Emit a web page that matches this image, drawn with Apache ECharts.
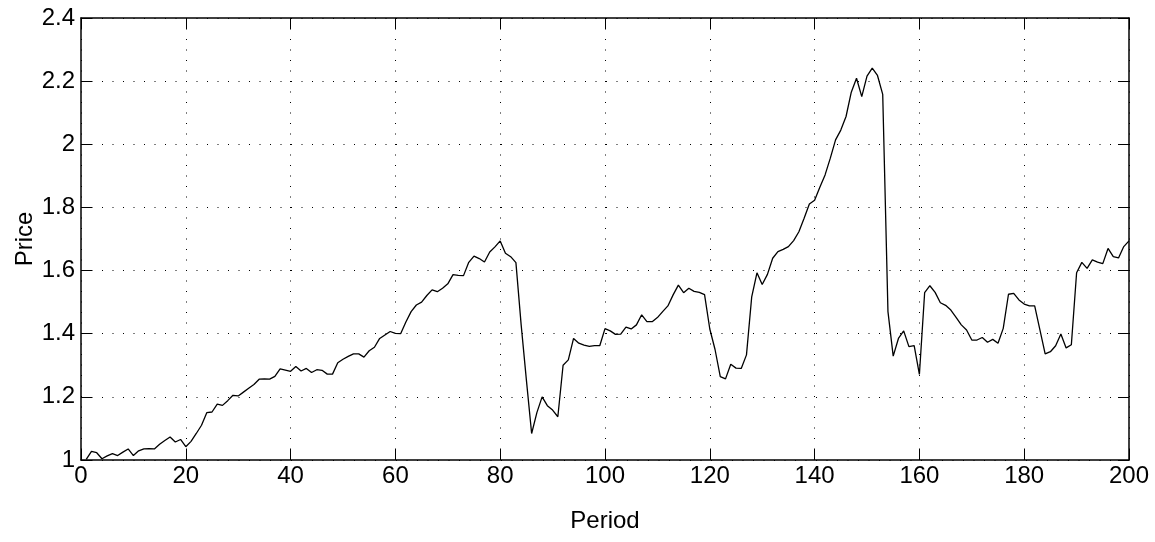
<!DOCTYPE html>
<html>
<head>
<meta charset="utf-8">
<script src="https://cdn.jsdelivr.net/npm/echarts@6/dist/echarts.min.js"></script>
<style>
html,body{margin:0;padding:0;background:#fff;}
#chart{width:1155px;height:542px;}
</style>
</head>
<body>
<div id="chart"></div>
<script>
// Periods 1..200
const periods = Array.from({length: 200}, (_, i) => i + 1);
const prices = [
  1.002, 1.027, 1.023, 1.004, 1.013, 1.020, 1.014, 1.025, 1.035, 1.014,
  1.029, 1.035, 1.036, 1.035, 1.050, 1.062, 1.073, 1.057, 1.065, 1.042,
  1.059, 1.084, 1.110, 1.150, 1.152, 1.177, 1.173, 1.188, 1.205, 1.203,
  1.215, 1.227, 1.239, 1.256, 1.257, 1.256, 1.265, 1.289, 1.285, 1.281,
  1.296, 1.282, 1.290, 1.277, 1.286, 1.284, 1.272, 1.272, 1.308, 1.319,
  1.328, 1.336, 1.336, 1.326, 1.346, 1.357, 1.385, 1.396, 1.407, 1.401,
  1.400, 1.437, 1.470, 1.491, 1.500, 1.521, 1.539, 1.533, 1.544, 1.558,
  1.587, 1.585, 1.584, 1.626, 1.646, 1.638, 1.627, 1.659, 1.675, 1.694,
  1.655, 1.644, 1.625, 1.428, 1.253, 1.084, 1.150, 1.200, 1.172, 1.158,
  1.137, 1.300, 1.317, 1.385, 1.370, 1.364, 1.360, 1.362, 1.362, 1.416,
  1.409, 1.398, 1.399, 1.421, 1.415, 1.428, 1.460, 1.438, 1.438, 1.451,
  1.470, 1.488, 1.523, 1.554, 1.530, 1.544, 1.534, 1.531, 1.524, 1.415,
  1.350, 1.264, 1.257, 1.303, 1.291, 1.290, 1.333, 1.517, 1.593, 1.556,
  1.588, 1.639, 1.660, 1.667, 1.676, 1.695, 1.723, 1.766, 1.811, 1.823,
  1.864, 1.903, 1.956, 2.014, 2.045, 2.088, 2.165, 2.209, 2.151, 2.216,
  2.241, 2.218, 2.158, 1.470, 1.329, 1.385, 1.409, 1.359, 1.362, 1.271,
  1.530, 1.552, 1.531, 1.498, 1.490, 1.475, 1.452, 1.428, 1.412, 1.380,
  1.380, 1.388, 1.373, 1.382, 1.370, 1.417, 1.525, 1.528, 1.507, 1.494,
  1.488, 1.488, 1.412, 1.336, 1.343, 1.362, 1.399, 1.355, 1.365, 1.593,
  1.626, 1.607, 1.634, 1.627, 1.622, 1.670, 1.644, 1.640, 1.676, 1.694
];
const xTicks = [0, 20, 40, 60, 80, 100, 120, 140, 160, 180, 200];
const yTicks = [1, 1.2, 1.4, 1.6, 1.8, 2, 2.2, 2.4];

const seriesData = periods.map((p, i) => [p, prices[i]]);
const font = 'Liberation Sans, Arial, Helvetica, sans-serif';
const gridDots = { color: '#000', width: 1, type: [1, 9.5] };
const fs = 24;

const chart = echarts.init(document.getElementById('chart'), null, {renderer: 'canvas'});
chart.setOption({
  animation: false,
  backgroundColor: '#fff',
  grid: { left: 81, right: 26, top: 18, bottom: 82, containLabel: false },
  xAxis: [{
    type: 'value', min: xTicks[0], max: xTicks[xTicks.length - 1], interval: 20,
    position: 'bottom',
    name: 'Period', nameLocation: 'middle', nameGap: 49, nameMoveOverlap: false,
    nameTextStyle: { color: '#000', fontSize: fs, fontFamily: font },
    axisLine: { show: true, onZero: false, lineStyle: { color: '#000', width: 1.5 } },
    axisTick: { show: true, inside: true, length: 11, lineStyle: { color: '#000', width: 1 } },
    axisLabel: { color: '#000', fontSize: fs, fontFamily: font, margin: 4 },
    splitLine: { show: true, lineStyle: gridDots }
  }, {
    type: 'value', min: xTicks[0], max: xTicks[xTicks.length - 1], interval: 20,
    position: 'top',
    axisLine: { show: true, onZero: false, lineStyle: { color: '#000', width: 1.5 } },
    axisTick: { show: true, inside: true, length: 11, lineStyle: { color: '#000', width: 1 } },
    axisLabel: { show: false },
    splitLine: { show: false }
  }],
  yAxis: [{
    type: 'value', min: yTicks[0], max: yTicks[yTicks.length - 1], interval: 0.2,
    position: 'left',
    name: 'Price', nameLocation: 'middle', nameGap: 44, nameMoveOverlap: false,
    nameTextStyle: { color: '#000', fontSize: fs, fontFamily: font },
    axisLine: { show: true, onZero: false, lineStyle: { color: '#000', width: 1.5 } },
    axisTick: { show: true, inside: true, length: 11, lineStyle: { color: '#000', width: 1 } },
    axisLabel: { color: '#000', fontSize: fs, fontFamily: font, margin: 6,
      formatter: v => String(Math.round(v * 10) / 10) },
    splitLine: { show: true, lineStyle: gridDots }
  }, {
    type: 'value', min: yTicks[0], max: yTicks[yTicks.length - 1], interval: 0.2,
    position: 'right',
    axisLine: { show: true, onZero: false, lineStyle: { color: '#000', width: 1.5 } },
    axisTick: { show: true, inside: true, length: 11, lineStyle: { color: '#000', width: 1 } },
    axisLabel: { show: false },
    splitLine: { show: false }
  }],
  series: [{
    type: 'line',
    xAxisIndex: 0, yAxisIndex: 0,
    data: seriesData,
    showSymbol: false,
    symbol: 'none',
    lineStyle: { color: '#000', width: 1.3 },
    z: 5
  }]
});
</script>
</body>
</html>
